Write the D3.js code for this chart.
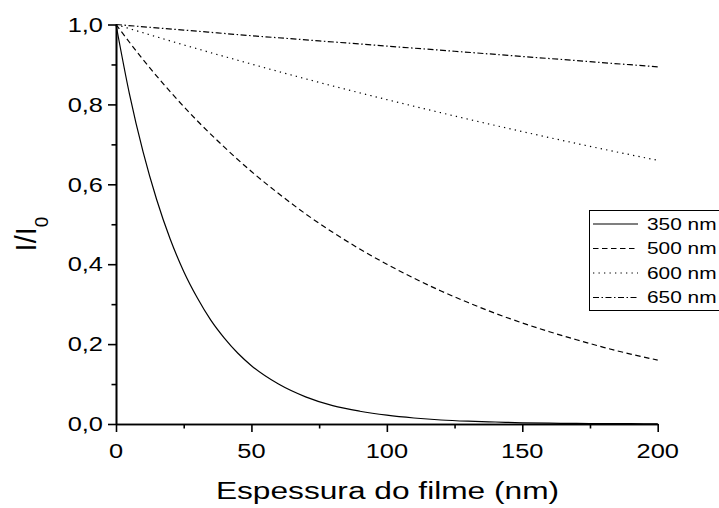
<!DOCTYPE html>
<html>
<head>
<meta charset="utf-8">
<script src="https://cdn.jsdelivr.net/npm/d3@7/dist/d3.min.js"></script>
<style>
  html, body { margin: 0; padding: 0; background: #fff; overflow: hidden; }
  text { font-family: "Liberation Sans", Arial, Helvetica, sans-serif; fill: #000; }
</style>
</head>
<body>
<svg id="chart" width="719" height="508"></svg>
<script>
// Transmitted fraction I/I0 versus film thickness, for four wavelengths.
const thickness350 = [0, 5, 10, 15, 20, 25, 30, 35, 40, 45, 50, 60, 70, 80, 90, 100,
                      110, 120, 130, 140, 150, 160, 170, 180, 190, 200];
const transmission350 = [1.000, 0.825, 0.681, 0.562, 0.463, 0.382, 0.316, 0.260, 0.215, 0.177,
                         0.146, 0.100, 0.068, 0.046, 0.032, 0.022, 0.015, 0.010, 0.007, 0.005,
                         0.003, 0.002, 0.0015, 0.001, 0.0007, 0.0005];

const thickness500 = [0, 10, 20, 30, 40, 50, 60, 70, 80, 90, 100,
                      110, 120, 130, 140, 150, 160, 170, 180, 190, 200];
const transmission500 = [1.000, 0.912, 0.832, 0.759, 0.693, 0.632, 0.577, 0.526, 0.480, 0.438, 0.400,
                         0.365, 0.333, 0.304, 0.277, 0.253, 0.231, 0.211, 0.192, 0.175, 0.160];

const thickness600 = [0, 25, 50, 75, 100, 125, 150, 175, 200];
const transmission600 = [1.000, 0.949, 0.901, 0.855, 0.812, 0.771, 0.732, 0.695, 0.660];

const thickness650 = [0, 25, 50, 75, 100, 125, 150, 175, 200];
const transmission650 = [1.000, 0.986, 0.972, 0.959, 0.946, 0.933, 0.920, 0.907, 0.894];

const seriesLabels = ["350 nm", "500 nm", "600 nm", "650 nm"];
const xMajorTicks = [0, 50, 100, 150, 200];
const xMinorTicks = [25, 75, 125, 175];
const yMajorTicks = [0.0, 0.2, 0.4, 0.6, 0.8, 1.0];
const yMinorTicks = [0.1, 0.3, 0.5, 0.7, 0.9];
const xTitle = "Espessura do filme (nm)";

const series = [
  { label: seriesLabels[0], xs: thickness350, ys: transmission350, dash: null },
  { label: seriesLabels[1], xs: thickness500, ys: transmission500, dash: "5.5,3.5" },
  { label: seriesLabels[2], xs: thickness600, ys: transmission600, dash: "1.3,4.2" },
  { label: seriesLabels[3], xs: thickness650, ys: transmission650, dash: "6,2.5,1.5,2.5" }
];

const svg = d3.select("#chart");
const x = d3.scaleLinear().domain([0, 200]).range([116, 657.7]);
const y = d3.scaleLinear().domain([0, 1]).range([424, 24.5]);

// Text in this figure is drawn slightly wide; a horizontal scale keeps it real text.
function wideText(parent, px, py, str, size, anchor, sx) {
  const g = parent.append("g").attr("transform", `translate(${px},${py}) scale(${sx},1)`);
  return g.append("text")
    .attr("x", 0).attr("y", 0)
    .attr("text-anchor", anchor)
    .attr("font-size", size)
    .text(str);
}

const commaFmt = v => d3.format(".1f")(v).replace(".", ",");

// Curves
const line = d3.line().curve(d3.curveMonotoneX);
const curves = svg.append("g").attr("fill", "none").attr("stroke", "#000").attr("stroke-width", 1.2);
series.forEach(s => {
  const pts = s.xs.map((t, i) => [x(t), y(s.ys[i])]);
  const p = curves.append("path").attr("d", line(pts));
  if (s.dash) p.attr("stroke-dasharray", s.dash);
});

// Axes: major and minor ticks pointing outwards
const axisStyle = g => {
  g.selectAll("path, line").attr("stroke", "#000").attr("stroke-width", 1.6);
  g.selectAll("text").remove();
};
svg.append("g").attr("transform", `translate(0,${y(0)})`)
  .call(d3.axisBottom(x).tickValues(xMinorTicks).tickSize(4.5).tickSizeOuter(0).tickFormat(""))
  .call(axisStyle);
svg.append("g").attr("transform", `translate(0,${y(0)})`)
  .call(d3.axisBottom(x).tickValues(xMajorTicks).tickSize(8).tickSizeOuter(0).tickFormat(""))
  .call(axisStyle);
svg.append("g").attr("transform", `translate(${x(0)},0)`)
  .call(d3.axisLeft(y).tickValues(yMinorTicks).tickSize(4.5).tickSizeOuter(0).tickFormat(""))
  .call(axisStyle);
svg.append("g").attr("transform", `translate(${x(0)},0)`)
  .call(d3.axisLeft(y).tickValues(yMajorTicks).tickSize(8).tickSizeOuter(0).tickFormat(""))
  .call(axisStyle);

// Tick labels
const tickSize = 20, tickSX = 1.27;
xMajorTicks.forEach(t => wideText(svg, x(t), 457.5, String(t), tickSize, "middle", tickSX));
yMajorTicks.forEach(v => wideText(svg, 103, y(v) + 7.2, commaFmt(v), tickSize, "end", tickSX));

// Axis titles
wideText(svg, 387.5, 499.3, xTitle, 24, "middle", 1.32);
const yt = svg.append("g").attr("transform", "translate(35.5,234) rotate(-90)")
  .append("text").attr("text-anchor", "middle").attr("font-size", 29);
yt.append("tspan").text("I/I");
yt.append("tspan").attr("font-size", 19).attr("dy", 12.5).text("0");

// Legend
const legend = svg.append("g");
legend.append("rect")
  .attr("x", 589.5).attr("y", 210.5).attr("width", 150).attr("height", 100)
  .attr("fill", "#fff").attr("stroke", "#000").attr("stroke-width", 1);
series.forEach((s, i) => {
  const ry = 224 + i * 24.5;
  const l = legend.append("line")
    .attr("x1", 593).attr("x2", 638).attr("y1", ry).attr("y2", ry)
    .attr("stroke", "#000").attr("stroke-width", 1.2);
  if (s.dash) l.attr("stroke-dasharray", s.dash);
  wideText(legend, 647, ry + 5.8, s.label, 16.3, "start", 1.28);
});
</script>
</body>
</html>
